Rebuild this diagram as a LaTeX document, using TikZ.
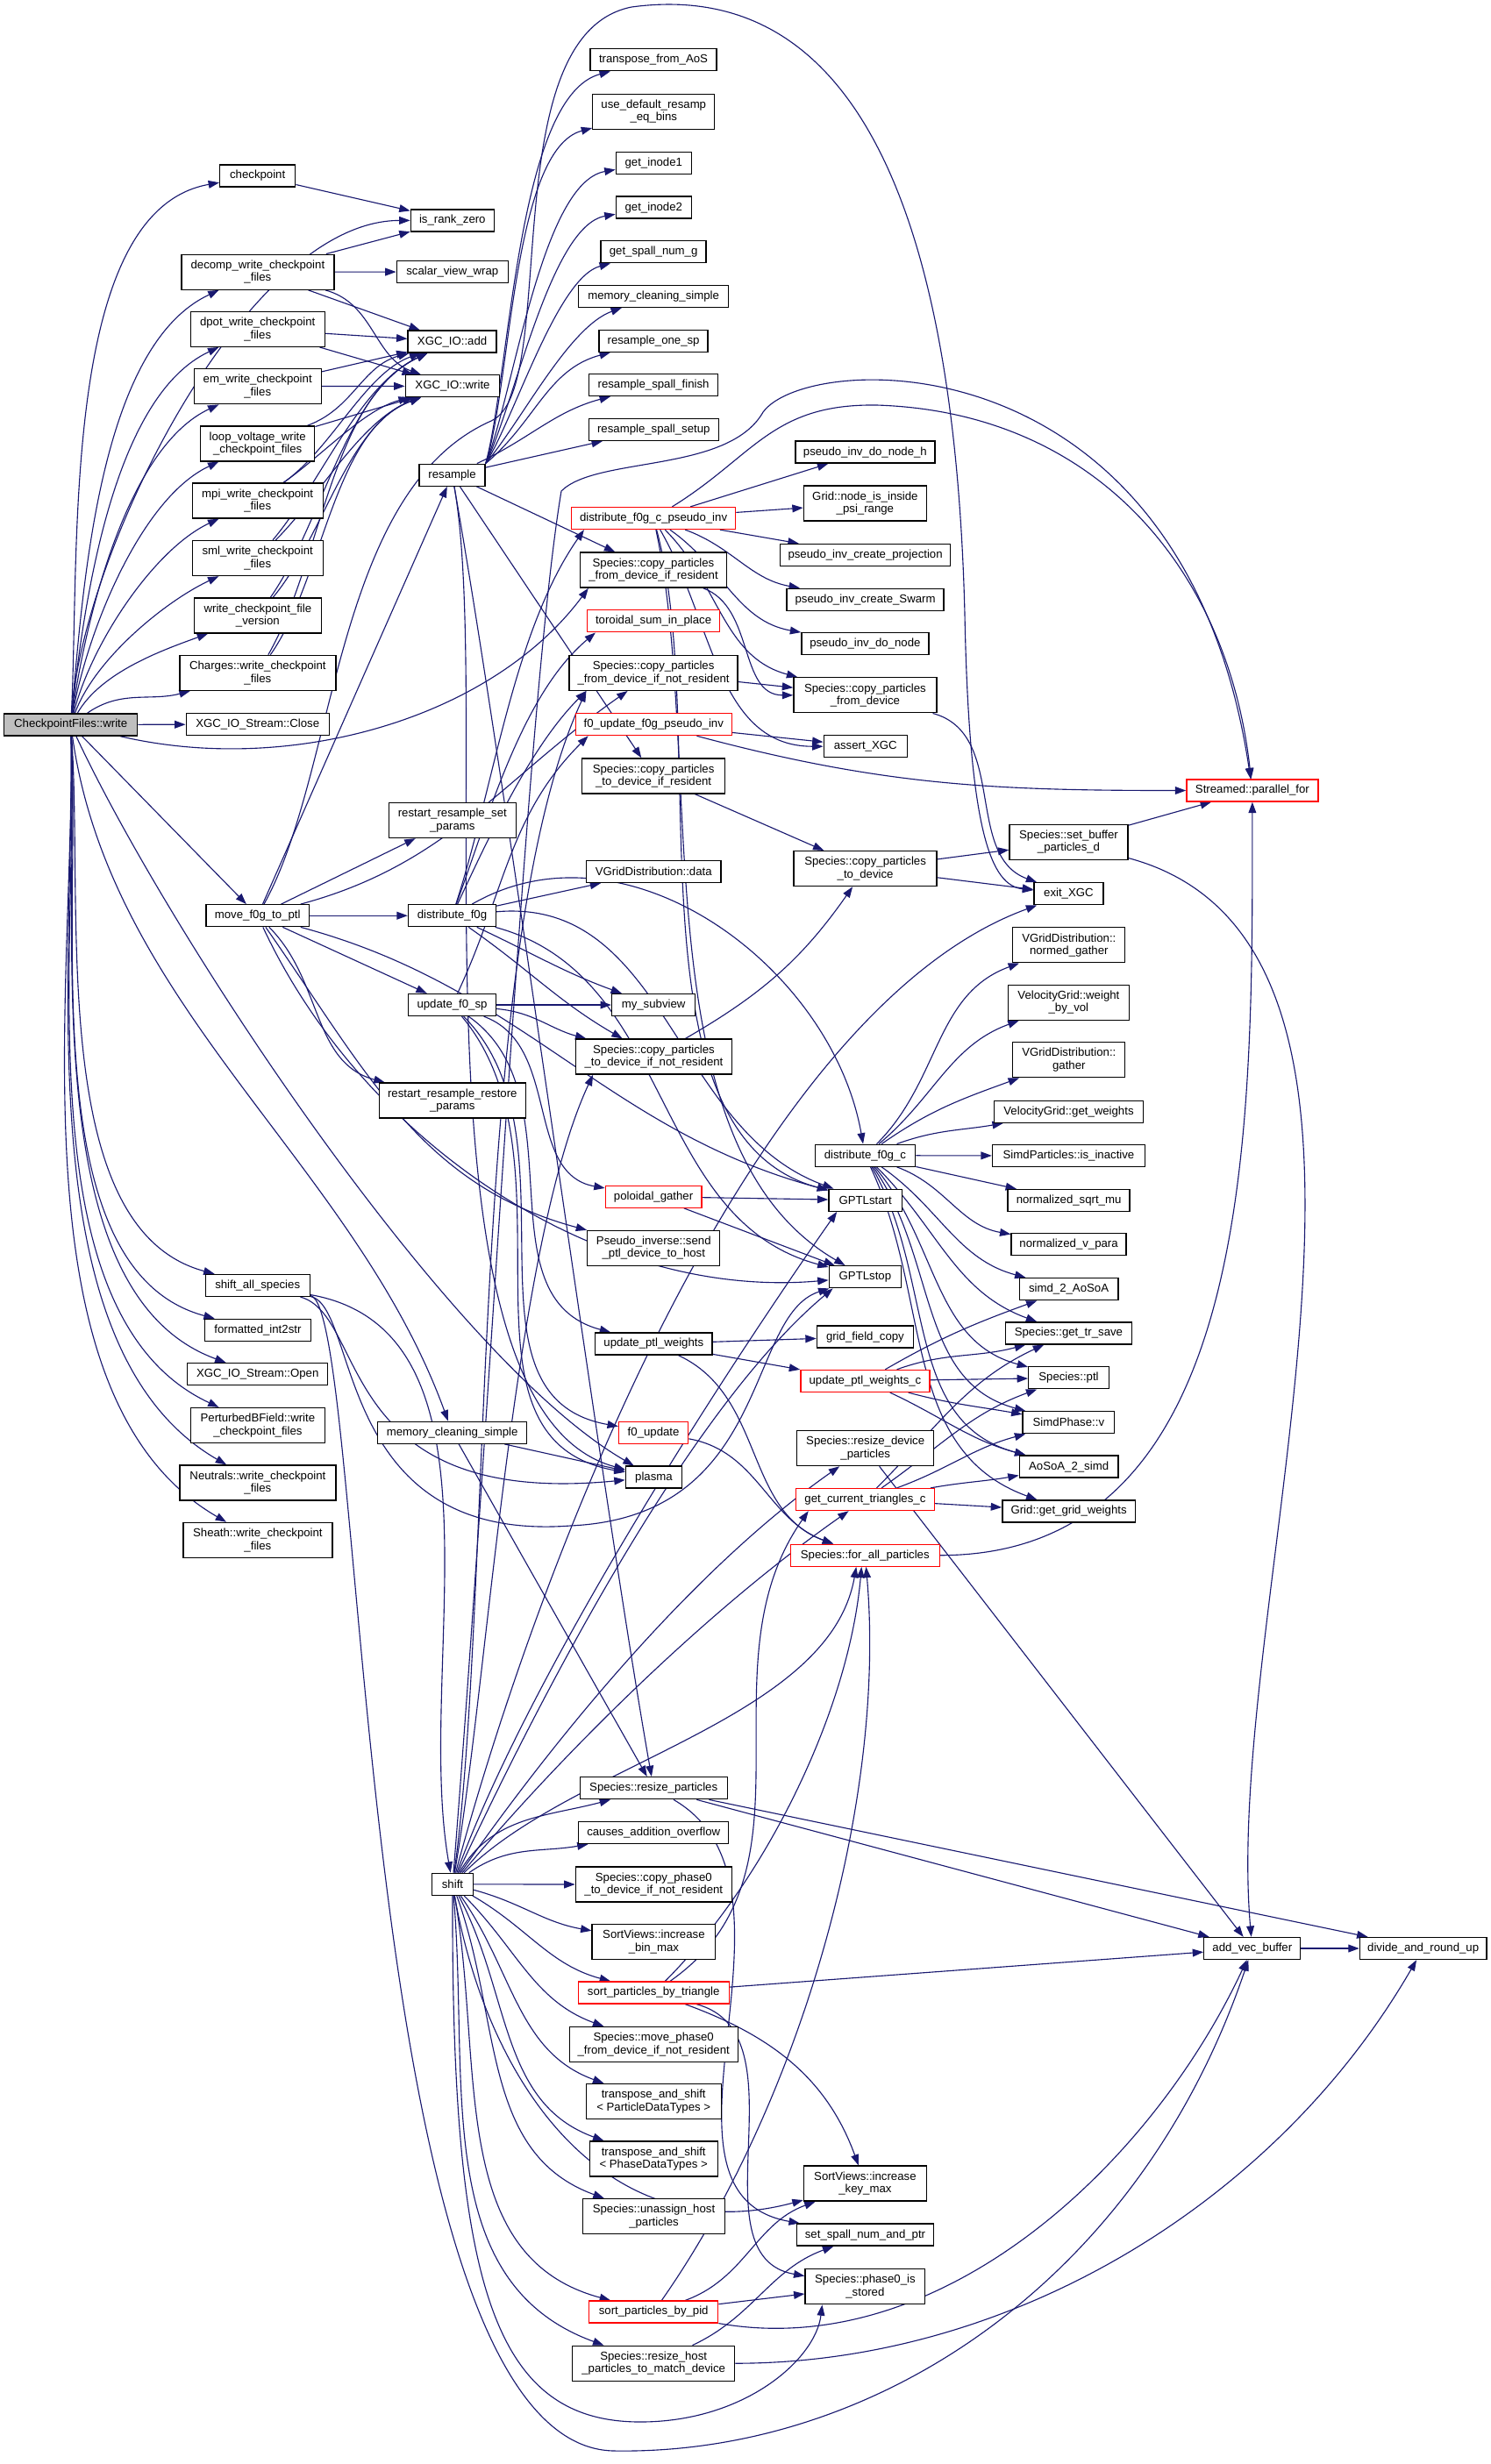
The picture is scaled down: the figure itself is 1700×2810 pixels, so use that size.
\documentclass[tikz,border=0pt]{standalone}
\usepackage{fontspec}
\setmainfont{Liberation Sans}
\usetikzlibrary{arrows.meta,backgrounds}
\definecolor{edgec}{HTML}{191970}
\definecolor{rootc}{HTML}{BFBFBF}
\newdimen\uu \uu=0.25pt
\tikzset{
  box/.style={draw=black, line width=0.33pt, fill=white, rectangle, inner sep=0pt,
    minimum height=25\uu, font=\fontsize{3.3}{3.62}\selectfont, align=center, text=black},
  tall/.style={minimum height=40\uu},
  redbox/.style={box, draw=red},
  edg/.style={draw=edgec, line width=0.28pt, -{Triangle[length=3.1pt,width=2.2pt]}}
}
\begin{document}
\begin{tikzpicture}[x=0.25pt,y=0.25pt]
\useasboundingbox (0,0) rectangle (1700,-2810);
% ---------- nodes ----------
\node[box, fill=rootc, minimum width=152\uu] (cfw) at (80.7,-826.4) {CheckpointFiles::write};
\node[box, minimum width=86\uu] (ckpt) at (293.7,-200.5) {checkpoint};
\node[box, minimum width=95\uu] (rank) at (515.8,-251.4) {is\_rank\_zero};
\node[box, tall, minimum width=174\uu] (decomp) at (293.9,-310.2) {decomp\_write\_checkpoint\\\_files};
\node[box, minimum width=127\uu] (svw) at (515.8,-310) {scalar\_view\_wrap};
\node[box, tall, minimum width=153\uu] (dpot) at (293.7,-375.3) {dpot\_write\_checkpoint\\\_files};
\node[box, minimum width=101\uu] (add) at (515.6,-389.6) {XGC\_IO::add};
\node[box, tall, minimum width=145\uu] (em) at (293.7,-440.7) {em\_write\_checkpoint\\\_files};
\node[box, minimum width=107.5\uu] (write) at (516,-440.2) {XGC\_IO::write};
\node[box, tall, minimum width=130\uu] (loop) at (293.7,-505.9) {loop\_voltage\_write\\\_checkpoint\_files};
\node[box, tall, minimum width=149\uu] (mpi) at (293.7,-571) {mpi\_write\_checkpoint\\\_files};
\node[box, tall, minimum width=149\uu] (sml) at (293.7,-636.5) {sml\_write\_checkpoint\\\_files};
\node[box, tall, minimum width=145\uu] (wcfv) at (293.9,-701.9) {write\_checkpoint\_file\\\_version};
\node[box, tall, minimum width=178\uu] (charges) at (293.9,-767.3) {Charges::write\_checkpoint\\\_files};
\node[box, minimum width=163\uu] (close) at (293.7,-826.1) {XGC\_IO\_Stream::Close};
\node[box, minimum width=75\uu] (resample) at (515.6,-541.7) {resample};
\node[box, tall, minimum width=145\uu] (rrsp) at (515.8,-935.5) {restart\_resample\_set\\\_params};
\node[box, minimum width=144\uu] (tfa) at (745,-68.2) {transpose\_from\_AoS};
\node[box, tall, minimum width=139\uu] (udr) at (745.3,-127.2) {use\_default\_resamp\\\_eq\_bins};
\node[box, minimum width=86\uu] (gi1) at (745.3,-185.7) {get\_inode1};
\node[box, minimum width=86\uu] (gi2) at (745.3,-236.6) {get\_inode2};
\node[box, minimum width=120\uu] (gsng) at (745.1,-287.2) {get\_spall\_num\_g};
\node[box, minimum width=171\uu] (mcs1) at (745.1,-337.8) {memory\_cleaning\_simple};
\node[box, minimum width=124\uu] (rosp) at (745.1,-388.7) {resample\_one\_sp};
\node[box, minimum width=147\uu] (rsf) at (745.1,-439) {resample\_spall\_finish};
\node[box, minimum width=148\uu] (rss) at (745.3,-489.9) {resample\_spall\_setup};
\node[redbox, minimum width=187\uu] (dfcpi) at (745.1,-591) {distribute\_f0g\_c\_pseudo\_inv};
\node[box, tall, minimum width=167\uu] (cpfdir) at (745,-650.1) {Species::copy\_particles\\\_from\_device\_if\_resident};
\node[redbox, minimum width=151\uu] (tsip) at (745.1,-708.3) {toroidal\_sum\_in\_place};
\node[box, tall, minimum width=192\uu] (cpfdinr) at (745.1,-767.3) {Species::copy\_particles\\\_from\_device\_if\_not\_resident};
\node[redbox, minimum width=178\uu] (f0ufpi) at (745.3,-826.1) {f0\_update\_f0g\_pseudo\_inv};
\node[box, tall, minimum width=163\uu] (cptdir) at (745.1,-884.9) {Species::copy\_particles\\\_to\_device\_if\_resident};
\node[box, minimum width=159\uu] (pidnh) at (986.4,-515.6) {pseudo\_inv\_do\_node\_h};
\node[box, tall, minimum width=140\uu] (gnii) at (986.4,-574.1) {Grid::node\_is\_inside\\\_psi\_range};
\node[box, minimum width=194\uu] (picp) at (986.6,-632.9) {pseudo\_inv\_create\_projection};
\node[box, minimum width=179\uu] (pics) at (986.6,-683.7) {pseudo\_inv\_create\_Swarm};
\node[box, minimum width=145\uu] (pidn) at (986.4,-734) {pseudo\_inv\_do\_node};
\node[box, tall, minimum width=163\uu] (cpfd) at (986.4,-792.8) {Species::copy\_particles\\\_from\_device};
\node[box, minimum width=95\uu] (assert) at (986.7,-851.2) {assert\_XGC};
\node[redbox, minimum width=150\uu] (spf) at (1427.9,-901.5) {Streamed::parallel\_for};
\node[box, minimum width=117.5\uu] (mf0) at (293.7,-1044.2) {move\_f0g\_to\_ptl};
\node[box, minimum width=100\uu] (df0g) at (515.5,-1044.2) {distribute\_f0g};
\node[box, minimum width=100\uu] (uf0sp) at (515.5,-1146) {update\_f0\_sp};
\node[box, tall, minimum width=167\uu] (rrrp) at (515.8,-1255) {restart\_resample\_restore\\\_params};
\node[box, minimum width=119\uu] (sas) at (293.7,-1465.9) {shift\_all\_species};
\node[box, minimum width=121\uu] (fi2s) at (293.9,-1516.8) {formatted\_int2str};
\node[box, minimum width=160\uu] (open) at (293.7,-1567) {XGC\_IO\_Stream::Open};
\node[box, tall, minimum width=153\uu] (pbf) at (293.9,-1625.5) {PerturbedBField::write\\\_checkpoint\_files};
\node[box, tall, minimum width=178\uu] (neut) at (293.9,-1691) {Neutrals::write\_checkpoint\\\_files};
\node[box, tall, minimum width=170\uu] (sheath) at (293.9,-1756.4) {Sheath::write\_checkpoint\\\_files};
\node[box, minimum width=170\uu] (mcs2) at (515.7,-1633.7) {memory\_cleaning\_simple};
\node[box, minimum width=153.5\uu] (vgd) at (745.3,-993.9) {VGridDistribution::data};
\node[box, tall, minimum width=163\uu] (cptd) at (986.6,-990.6) {Species::copy\_particles\\\_to\_device};
\node[box, minimum width=95\uu] (mysub) at (745.1,-1146) {my\_subview};
\node[box, tall, minimum width=177.5\uu] (cptdinr) at (745.5,-1205.1) {Species::copy\_particles\\\_to\_device\_if\_not\_resident};
\node[box, minimum width=114.4\uu] (df0gc) at (986.4,-1317.7) {distribute\_f0g\_c};
\node[redbox, minimum width=109.5\uu] (pg) at (745.1,-1364.7) {poloidal\_gather};
\node[box, minimum width=83.4\uu] (gstart) at (986.6,-1368.7) {GPTLstart};
\node[box, tall, minimum width=151\uu] (pisend) at (745.3,-1423.2) {Pseudo\_inverse::send\\\_ptl\_device\_to\_host};
\node[box, minimum width=82.3\uu] (gstop) at (986.4,-1456.2) {GPTLstop};
\node[box, minimum width=110\uu] (gfc) at (986.4,-1524.6) {grid\_field\_copy};
\node[box, minimum width=133.5\uu] (upw) at (745.3,-1532.5) {update\_ptl\_weights};
\node[redbox, minimum width=147.3\uu] (upwc) at (986.5,-1574.9) {update\_ptl\_weights\_c};
\node[redbox, minimum width=79\uu] (f0u) at (745.1,-1633.7) {f0\_update};
\node[box, tall, minimum width=156\uu] (rdp) at (986.7,-1651.6) {Species::resize\_device\\\_particles};
\node[box, minimum width=64.3\uu] (plasma) at (745.5,-1684.6) {plasma};
\node[redbox, minimum width=158\uu] (gctc) at (986.4,-1710) {get\_current\_triangles\_c};
\node[redbox, minimum width=170\uu] (fap) at (986.3,-1773.7) {Species::for\_all\_particles};
\node[box, tall, minimum width=135\uu] (sbpd) at (1218.5,-960.3) {Species::set\_buffer\\\_particles\_d};
\node[box, minimum width=79\uu] (exit) at (1218.4,-1019.3) {exit\_XGC};
\node[box, tall, minimum width=128\uu] (vng) at (1218.8,-1077.8) {VGridDistribution::\\normed\_gather};
\node[box, tall, minimum width=138\uu] (vwbv) at (1218.4,-1143.3) {VelocityGrid::weight\\\_by\_vol};
\node[box, tall, minimum width=128\uu] (vg) at (1218.8,-1208.7) {VGridDistribution::\\gather};
\node[box, minimum width=169.5\uu] (vgw) at (1218.5,-1267.7) {VelocityGrid::get\_weights};
\node[box, minimum width=174\uu] (spii) at (1218.5,-1318) {SimdParticles::is\_inactive};
\node[box, minimum width=139\uu] (nsm) at (1218.6,-1369) {normalized\_sqrt\_mu};
\node[box, minimum width=131\uu] (nvp) at (1218.6,-1419.2) {normalized\_v\_para};
\node[box, minimum width=112.5\uu] (s2a) at (1218.6,-1470.1) {simd\_2\_AoSoA};
\node[box, minimum width=144\uu] (gts) at (1218.4,-1520.4) {Species::get\_tr\_save};
\node[box, minimum width=91.5\uu] (ptl) at (1218.5,-1571.3) {Species::ptl};
\node[box, minimum width=104.5\uu] (spv) at (1218.4,-1622.2) {SimdPhase::v};
\node[box, minimum width=112.5\uu] (a2s) at (1218.6,-1672.5) {AoSoA\_2\_simd};
\node[box, minimum width=151.5\uu] (ggw) at (1218.6,-1723.4) {Grid::get\_grid\_weights};
\node[box, minimum width=47\uu] (shift) at (516,-2148.8) {shift};
\node[box, minimum width=168\uu] (rp) at (745.2,-2039.2) {Species::resize\_particles};
\node[box, minimum width=171\uu] (cao) at (745.2,-2090) {causes\_addition\_overflow};
\node[box, tall, minimum width=178\uu] (cp0) at (745.3,-2149.1) {Species::copy\_phase0\\\_to\_device\_if\_not\_resident};
\node[box, tall, minimum width=140.5\uu] (svibm) at (745.4,-2214.3) {SortViews::increase\\\_bin\_max};
\node[redbox, minimum width=172\uu] (spbt) at (745.2,-2272.5) {sort\_particles\_by\_triangle};
\node[box, tall, minimum width=192\uu] (mp0) at (745.2,-2331.5) {Species::move\_phase0\\\_from\_device\_if\_not\_resident};
\node[box, tall, minimum width=154\uu] (tasp) at (745.2,-2396.4) {transpose\_and\_shift\\< ParticleDataTypes >};
\node[box, tall, minimum width=146\uu] (tasph) at (745.2,-2461.9) {transpose\_and\_shift\\< PhaseDataTypes >};
\node[box, tall, minimum width=161.5\uu] (uhp) at (745.5,-2527.5) {Species::unassign\_host\\\_particles};
\node[redbox, minimum width=147\uu] (spbp) at (745.2,-2636.5) {sort\_particles\_by\_pid};
\node[box, tall, minimum width=185\uu] (rhp) at (745.2,-2695.2) {Species::resize\_host\\\_particles\_to\_match\_device};
\node[box, tall, minimum width=140\uu] (svikm) at (986.4,-2490.1) {SortViews::increase\\\_key\_max};
\node[box, minimum width=156.5\uu] (ssnp) at (986.5,-2548.6) {set\_spall\_num\_and\_ptr};
\node[box, tall, minimum width=136.6\uu] (p0s) at (986.4,-2607.7) {Species::phase0\_is\\\_stored};
\node[box, minimum width=110\uu] (avb) at (1427.8,-2222) {add\_vec\_buffer};
\node[box, minimum width=144.6\uu] (darup) at (1622.7,-2222) {divide\_and\_round\_up};
% ---------- edges ----------
\begin{scope}[on background layer]
\fill[white] (0,0) rectangle (1700,-2810);
% CheckpointFiles::write
\draw[edg] (cfw) to[out=87,in=190,looseness=0.75] (ckpt);
\draw[edg] (cfw) to[out=86,in=180,looseness=0.7] (rank);
\draw[edg] (cfw) to[out=85,in=205,looseness=0.75] (decomp);
\draw[edg] (cfw) to[out=84,in=205,looseness=0.75] (dpot);
\draw[edg] (cfw) to[out=82,in=205,looseness=0.75] (em);
\draw[edg] (cfw) to[out=80,in=205,looseness=0.75] (loop);
\draw[edg] (cfw) to[out=76,in=205,looseness=0.75] (mpi);
\draw[edg] (cfw) to[out=70,in=205,looseness=0.75] (sml);
\draw[edg] (cfw) to[out=60,in=200,looseness=0.8] (wcfv);
\draw[edg] (cfw) to[out=35,in=195] (charges);
\draw[edg] (cfw) -- (close);
\draw[edg] (cfw) .. controls (330,-885) and (560,-820) .. ([xshift=10\uu]cpfdir.south west);
\draw[edg] (cfw) -- (mf0);
\draw[edg] (cfw) to[out=-65,in=150,looseness=0.6] (plasma);
\draw[edg] (cfw) to[out=-86,in=165,looseness=0.8] (sas);
\draw[edg] (cfw) to[out=-87,in=165,looseness=0.8] (fi2s);
\draw[edg] (cfw) to[out=-88,in=160,looseness=0.8] (open);
\draw[edg] (cfw) to[out=-88,in=155,looseness=0.8] (pbf);
\draw[edg] (cfw) to[out=-89,in=150,looseness=0.8] (neut);
\draw[edg] (cfw) to[out=-89,in=150,looseness=0.8] (sheath);
\draw[edg] (cfw) to[out=-82,in=110,looseness=0.9] (mcs2);
% writers
\draw[edg] (ckpt) -- (rank);
\draw[edg] (decomp) -- (rank);
\draw[edg] (decomp) -- (svw);
\draw[edg] (decomp) -- (add);
\draw[edg] (decomp) to[out=-15,in=160] (write);
\draw[edg] (dpot) -- (add);
\draw[edg] (dpot) -- (write);
\draw[edg] (em) -- (add);
\draw[edg] (em) -- (write);
\draw[edg] (loop) to[out=20,in=195] (add);
\draw[edg] (loop) -- (write);
\draw[edg] (mpi) to[out=35,in=200,looseness=0.8] (add);
\draw[edg] (mpi) to[out=35,in=195,looseness=0.8] (write);
\draw[edg] (sml) to[out=50,in=205,looseness=0.8] (add);
\draw[edg] (sml) to[out=45,in=200,looseness=0.8] (write);
\draw[edg] (wcfv) to[out=55,in=205,looseness=0.8] (add);
\draw[edg] (wcfv) to[out=50,in=200,looseness=0.8] (write);
\draw[edg] (charges) to[out=60,in=205,looseness=0.8] (add);
\draw[edg] (charges) to[out=55,in=200,looseness=0.8] (write);
% move_f0g_to_ptl
\draw[edg] (mf0) -- (resample);
\draw[edg] (mf0) .. controls (385,-880) and (380,-560) .. (560,-480) .. controls (640,-445) and (560,-40) .. (720,-8) .. controls (1000,30) and (1090,-300) .. (1100,-700) .. controls (1105,-950) and (1130,-1010) .. (exit);
\draw[edg] (mf0) -- (rrsp);
\draw[edg] (mf0) -- (df0g);
\draw[edg] (mf0) -- (uf0sp);
\draw[edg] (mf0) to[out=-45,in=165] (rrrp);
\draw[edg] (mf0) to[out=-15,in=165] (gstart);
\draw[edg] (mf0) to[out=-65,in=185,looseness=0.9] (gstop);
\draw[edg] (mf0) to[out=-55,in=165] (pisend);
\draw[edg] (mf0) to[out=15,in=215] (cpfdinr);
% resample
\draw[edg] (resample.north east) to[out=75,in=195,looseness=0.6] (tfa);
\draw[edg] (resample.north east) to[out=72,in=195,looseness=0.6] (udr);
\draw[edg] (resample.north east) to[out=68,in=190,looseness=0.6] (gi1);
\draw[edg] (resample.north east) to[out=64,in=190,looseness=0.6] (gi2);
\draw[edg] (resample.north east) to[out=58,in=195,looseness=0.6] (gsng);
\draw[edg] (resample.north east) to[out=50,in=200,looseness=0.7] (mcs1);
\draw[edg] (resample.north east) to[out=40,in=195] (rosp);
\draw[edg] (resample) to[out=25,in=195] (rsf);
\draw[edg] (resample) -- (rss);
\draw[edg] (resample) -- (cpfdir);
\draw[edg] (resample) -- (cptdir);
\draw[edg] (resample) to[out=-80,in=165,looseness=0.6] (plasma);
\draw[edg] (resample) to[out=-80,in=100,looseness=0.6] (rp);
% distribute_f0g
\draw[edg] (df0g) to[out=72,in=235,looseness=0.8] ([xshift=15\uu]dfcpi.south west);
\draw[edg] (df0g) to[out=70,in=220,looseness=0.8] ([xshift=10\uu]tsip.south west);
\draw[edg] (df0g) to[out=65,in=225,looseness=0.8] ([xshift=20\uu]cpfdinr.south west);
\draw[edg] (df0g) -- (vgd);
\draw[edg] (df0g) to[out=-25,in=160] (mysub);
\draw[edg] (df0g) to[out=-35,in=150] (cptdinr);
\draw[edg] (df0g) to[out=5,in=160] (gstart);
\draw[edg] (df0g) to[out=-15,in=165] (gstop);
\draw[edg] (df0g) to[out=30,in=100] (df0gc);
% update_f0_sp
\draw[edg] (uf0sp) to[out=65,in=225] ([xshift=15\uu]f0ufpi.south west);
\draw[edg] (uf0sp) -- (mysub);
\draw[edg] (uf0sp) to[out=-5,in=165] (cptdinr);
\draw[edg] (uf0sp) to[out=-20,in=170] (pg);
\draw[edg] (uf0sp) to[out=-35,in=165] (upw);
\draw[edg] (uf0sp) to[out=-45,in=170] (f0u);
\draw[edg] (uf0sp) to[out=-50,in=170] (plasma);
% shift_all_species
\draw[edg] (sas) to[out=-10,in=100,looseness=0.9] (shift);
\draw[edg] (sas) .. controls (420,-1500) and (380,-1720) .. (plasma);
\draw[edg] (sas) .. controls (410,-1490) and (380,-1760) .. (650,-1740) .. controls (880,-1730) and (850,-1500) .. (gstop);
\draw[edg] (sas) .. controls (420,-1490) and (400,-2790) .. (700,-2795) .. controls (1000,-2800) and (1300,-2600) .. (avb);
% memory_cleaning_simple
\draw[edg] (mcs2) -- (plasma);
\draw[edg] (mcs2) -- (rp);
% shift
\draw[edg] (shift) to[out=60,in=195] (rp);
\draw[edg] (shift) to[out=35,in=190] (cao);
\draw[edg] (shift) -- (cp0);
\draw[edg] (shift) to[out=-15,in=170] (svibm);
\draw[edg] (shift) to[out=-30,in=165] (spbt);
\draw[edg] (shift) to[out=-45,in=160] (mp0);
\draw[edg] (shift) to[out=-55,in=160] (tasp);
\draw[edg] (shift) to[out=-62,in=160] (tasph);
\draw[edg] (shift) to[out=-70,in=160] (uhp);
\draw[edg] (shift) to[out=-80,in=165] (spbp);
\draw[edg] (shift) to[out=-85,in=160] (rhp);
\draw[edg] (shift) to[out=-80,in=195,looseness=1.1] (svikm);
\draw[edg] (shift) .. controls (515,-2600) and (560,-2762) .. (730,-2762) .. controls (850,-2762) and (930,-2690) .. ([xshift=20\uu]p0s.south west);
\draw[edg] (shift) to[out=82,in=245,looseness=0.6] ([xshift=20\uu]cpfdinr.south west);
\draw[edg] (shift) to[out=80,in=245,looseness=0.6] ([xshift=20\uu]cptdinr.south west);
\draw[edg] (shift) to[out=75,in=200,looseness=0.7] (exit);
\draw[edg] (shift) to[out=70,in=235,looseness=0.7] ([xshift=10\uu]gstart.south west);
\draw[edg] (shift) to[out=65,in=220,looseness=0.7] ([xshift=5\uu]gstop.south west);
\draw[edg] (shift) to[out=55,in=215,looseness=0.8] (rdp);
\draw[edg] (shift) to[out=50,in=215,looseness=0.8] (gctc);
\draw[edg] (shift) to[out=45,in=260,looseness=0.8] ([xshift=-10\uu]fap.south);
\draw[edg] (shift) .. controls (560,-1600) and (600,-800) .. (640,-560) .. controls (680,-520) and (830,-540) .. (870,-470) .. controls (920,-400) and (1350,-380) .. (spf);
% lower column
\draw[edg] (rp) -- (darup);
\draw[edg] (rp) -- (avb);
\draw[edg] (rp) to[out=-30,in=170] (ssnp);
\draw[edg] (spbt) -- (avb);
\draw[edg] (spbt) to[out=45,in=-95,looseness=0.8] ([xshift=-4\uu]fap.south);
\draw[edg] (spbt) to[out=35,in=235] ([xshift=15\uu]gctc.south west);
\draw[edg] (spbt) to[out=-20,in=110] (svikm);
\draw[edg] (spbt) to[out=-15,in=170] (p0s);
\draw[edg] (spbp) to[out=55,in=-85,looseness=0.8] (fap);
\draw[edg] (spbp) to[out=20,in=200] (svikm);
\draw[edg] (spbp) -- (p0s);
\draw[edg] (spbp) to[out=-10,in=245,looseness=0.9] (avb);
\draw[edg] (rhp) to[out=25,in=200] (ssnp);
\draw[edg] (rhp) to[out=0,in=240,looseness=0.9] (darup);
% column 3 -> 4
\draw[edg] (cptdir) -- (cptd);
\draw[edg] (cptdinr) to[out=30,in=235] (cptd);
\draw[edg] (cpfdinr) -- (cpfd);
\draw[edg] (cpfdir) to[out=-20,in=180] (cpfd);
\draw[edg] (f0ufpi) -- (assert);
\draw[edg] (f0ufpi) to[out=-15,in=180] (spf);
\draw[edg] (pg) -- (gstart);
\draw[edg] (pg) -- (gstop);
\draw[edg] (upw) -- (gfc);
\draw[edg] (upw) -- (upwc);
\draw[edg] (upw) to[out=-25,in=160] (fap);
\draw[edg] (f0u) to[out=-10,in=160] (fap);
\draw[edg] (dfcpi) -- (pidnh);
\draw[edg] (dfcpi) -- (gnii);
\draw[edg] (dfcpi) -- (picp);
\draw[edg] (dfcpi) to[out=-20,in=170] (pics);
\draw[edg] (dfcpi) to[out=-35,in=170] (pidn);
\draw[edg] (dfcpi) to[out=-45,in=165] (cpfd);
\draw[edg] (dfcpi) to[out=-60,in=180] (assert);
\draw[edg] (dfcpi) to[out=-75,in=165,looseness=0.8] (gstart);
\draw[edg] (dfcpi) to[out=-78,in=150,looseness=0.8] (gstop);
\draw[edg] (dfcpi) .. controls (860,-520) and (880,-460) .. (1000,-462) .. controls (1250,-470) and (1400,-650) .. (spf);
% column 4 -> right
\draw[edg] (cptd) -- (sbpd);
\draw[edg] (cptd) -- (exit);
\draw[edg] (cpfd) to[out=-15,in=160] (exit);
\draw[edg] (sbpd) -- (spf);
\draw[edg] (sbpd) to[out=-15,in=95,looseness=0.8] (avb);
\draw[edg] (fap) to[out=0,in=-90] (spf);
\draw[edg] (df0gc) to[out=45,in=200] (vng);
\draw[edg] (df0gc) to[out=40,in=200] (vwbv);
\draw[edg] (df0gc) to[out=35,in=200] (vg);
\draw[edg] (df0gc) to[out=20,in=190] (vgw);
\draw[edg] (df0gc) -- (spii);
\draw[edg] (df0gc) -- (nsm);
\draw[edg] (df0gc) to[out=-20,in=170] (nvp);
\draw[edg] (df0gc) to[out=-35,in=165] (s2a);
\draw[edg] (df0gc) to[out=-45,in=160] (gts);
\draw[edg] (df0gc) to[out=-50,in=165] (ptl);
\draw[edg] (df0gc) to[out=-55,in=165] (spv);
\draw[edg] (df0gc) to[out=-60,in=165] (a2s);
\draw[edg] (df0gc) to[out=-65,in=160] (ggw);
\draw[edg] (upwc) to[out=30,in=200] (s2a);
\draw[edg] (upwc) to[out=20,in=195] (gts);
\draw[edg] (upwc) -- (ptl);
\draw[edg] (upwc) to[out=-15,in=170] (spv);
\draw[edg] (upwc) to[out=-25,in=165] (a2s);
\draw[edg] (gctc) to[out=45,in=205] (gts);
\draw[edg] (gctc) to[out=35,in=200] (ptl);
\draw[edg] (gctc) to[out=20,in=195] (spv);
\draw[edg] (gctc) to[out=10,in=190] (a2s);
\draw[edg] (gctc) -- (ggw);
\draw[edg] (rdp) -- (avb);
\draw[edg] (avb) -- (darup);
\end{scope}
\end{tikzpicture}
\end{document}
